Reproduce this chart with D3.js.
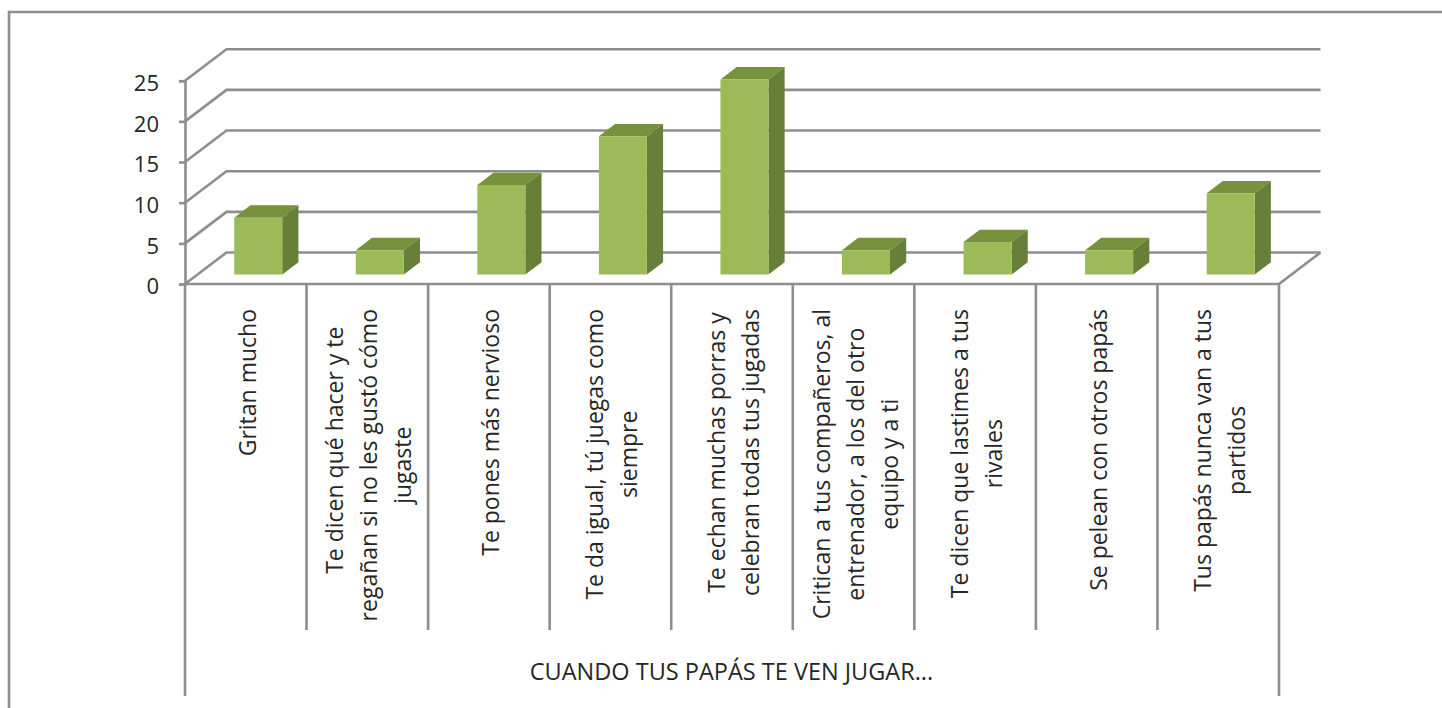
<!DOCTYPE html>
<html><head><meta charset="utf-8">
<script src="https://cdn.jsdelivr.net/npm/d3@7/dist/d3.min.js"></script>
<style>html,body{margin:0;padding:0;background:#fff;overflow:hidden}svg{display:block}
text{font-family:"Open Sans",sans-serif;fill:#262626}</style></head>
<body><svg id="c" width="1442" height="708"></svg>
<script>
const categories = [
 ["Gritan mucho"],
 ["Te dicen qué hacer y te","regañan si no les gustó cómo","jugaste"],
 ["Te pones más nervioso"],
 ["Te da igual, tú juegas como","siempre"],
 ["Te echan muchas porras y","celebran todas tus jugadas"],
 ["Critican a tus compañeros, al","entrenador, a los del otro","equipo y a ti"],
 ["Te dicen que lastimes a tus","rivales"],
 ["Se pelean con otros papás"],
 ["Tus papás nunca van a tus","partidos"]
];
const values = [7,3,11,17,24,3,4,3,10];
const yTicks = [0,5,10,15,20,25];
const axisTitle = "CUANDO TUS PAPÁS TE VEN JUGAR...";

const GRID="#8e8e8e", LW=2.6;
const svg=d3.select("#c");
const x=d3.scaleBand().domain(d3.range(categories.length)).range([185,1279]).paddingInner(0.605).paddingOuter(0.3025);
const y=d3.scaleLinear().domain([0,25]).range([284,80.7]);
const dx=41.5, dy=-31.5;
const proj=(px,py,d)=>[px+dx*d,py+dy*d];
const line=d3.line();

// frame
svg.append("path").attr("d","M9,708V12H1442").attr("fill","none").attr("stroke",GRID).attr("stroke-width",2.6);

// gridlines: side wall and back wall
const grid=svg.append("g").attr("fill","none").attr("stroke",GRID).attr("stroke-width",LW);
yTicks.forEach(t=>{
  grid.append("path").attr("d",line([[185,y(t)],proj(185,y(t),1),proj(1279,y(t),1)]));
});
// floor edges
grid.append("path").attr("d",line([[1279,y(0)],proj(1279,y(0),1)]));
grid.append("path").attr("d",line([[185,y(0)],[1279,y(0)]]));

// y axis
const ya=svg.append("g").attr("transform","translate(185,0)")
  .call(d3.axisLeft(y).tickValues(yTicks).tickSize(6).tickPadding(20).tickFormat(d3.format("d")));
ya.selectAll("path,line").attr("stroke",GRID).attr("stroke-width",LW);
ya.selectAll("text").attr("fill","#262626").style("font-size","22px").style("font-family",'"Open Sans",sans-serif').attr("dy","0.45em");

// category separators
const edges=d3.range(categories.length+1).map(i=>185+i*x.step());
svg.append("g").selectAll("line").data(edges).join("line")
  .attr("x1",d=>d).attr("x2",d=>d).attr("y1",284)
  .attr("y2",(d,i)=>(i===0||i===categories.length)?696:630)
  .attr("stroke",GRID).attr("stroke-width",LW);

// bars
const depthFront=0.3, depthBack=0.69;
const FRONT="#9bbb59", TOP="#76923c", SIDE="#66803a";
const bars=svg.append("g").selectAll("g").data(values).join("g");
const corner=(i,v,side,d)=>{
  const px=x(i)+(side?x.bandwidth():0);
  return proj(px,y(v),d);
};
bars.append("path").attr("fill",TOP).attr("d",(v,i)=>line([corner(i,v,0,depthFront),corner(i,v,1,depthFront),corner(i,v,1,depthBack),corner(i,v,0,depthBack)])+"Z");
bars.append("path").attr("fill",SIDE).attr("d",(v,i)=>line([corner(i,v,1,depthFront),corner(i,v,1,depthBack),corner(i,0,1,depthBack),corner(i,0,1,depthFront)])+"Z");
bars.append("path").attr("fill",FRONT).attr("d",(v,i)=>line([corner(i,v,0,depthFront),corner(i,v,1,depthFront),corner(i,0,1,depthFront),corner(i,0,0,depthFront)])+"Z");

// category labels: rotated, wrapped, centred lines in a block aligned to the top
const FS=23, LH=34, TOPY=309;
const ctx=document.createElement("canvas").getContext("2d");
ctx.font=FS+'px "Open Sans"';
const labels=svg.append("g").selectAll("g").data(categories).join("g");
labels.each(function(lines,i){
  const cx=185+(i+0.5)*x.step();
  const w=d3.max(lines,l=>ctx.measureText(l).width);
  const cy=TOPY+w/2;
  d3.select(this).selectAll("text").data(lines).join("text")
    .attr("text-anchor","middle")
    .attr("font-size",FS)
    .attr("transform",(l,k)=>{
      // the first line of the second label sits flush with the block's top in the source
      const nudge=(i===1&&k===0)?-15:0;
      return `translate(${cx+(k-(lines.length-1)/2)*LH+10},${cy+nudge}) rotate(-90)`;
    })
    .text(l=>l);
});

svg.append("text").attr("x",731.5).attr("y",680).attr("text-anchor","middle").attr("font-size",23.5).text(axisTitle);
</script></body></html>
